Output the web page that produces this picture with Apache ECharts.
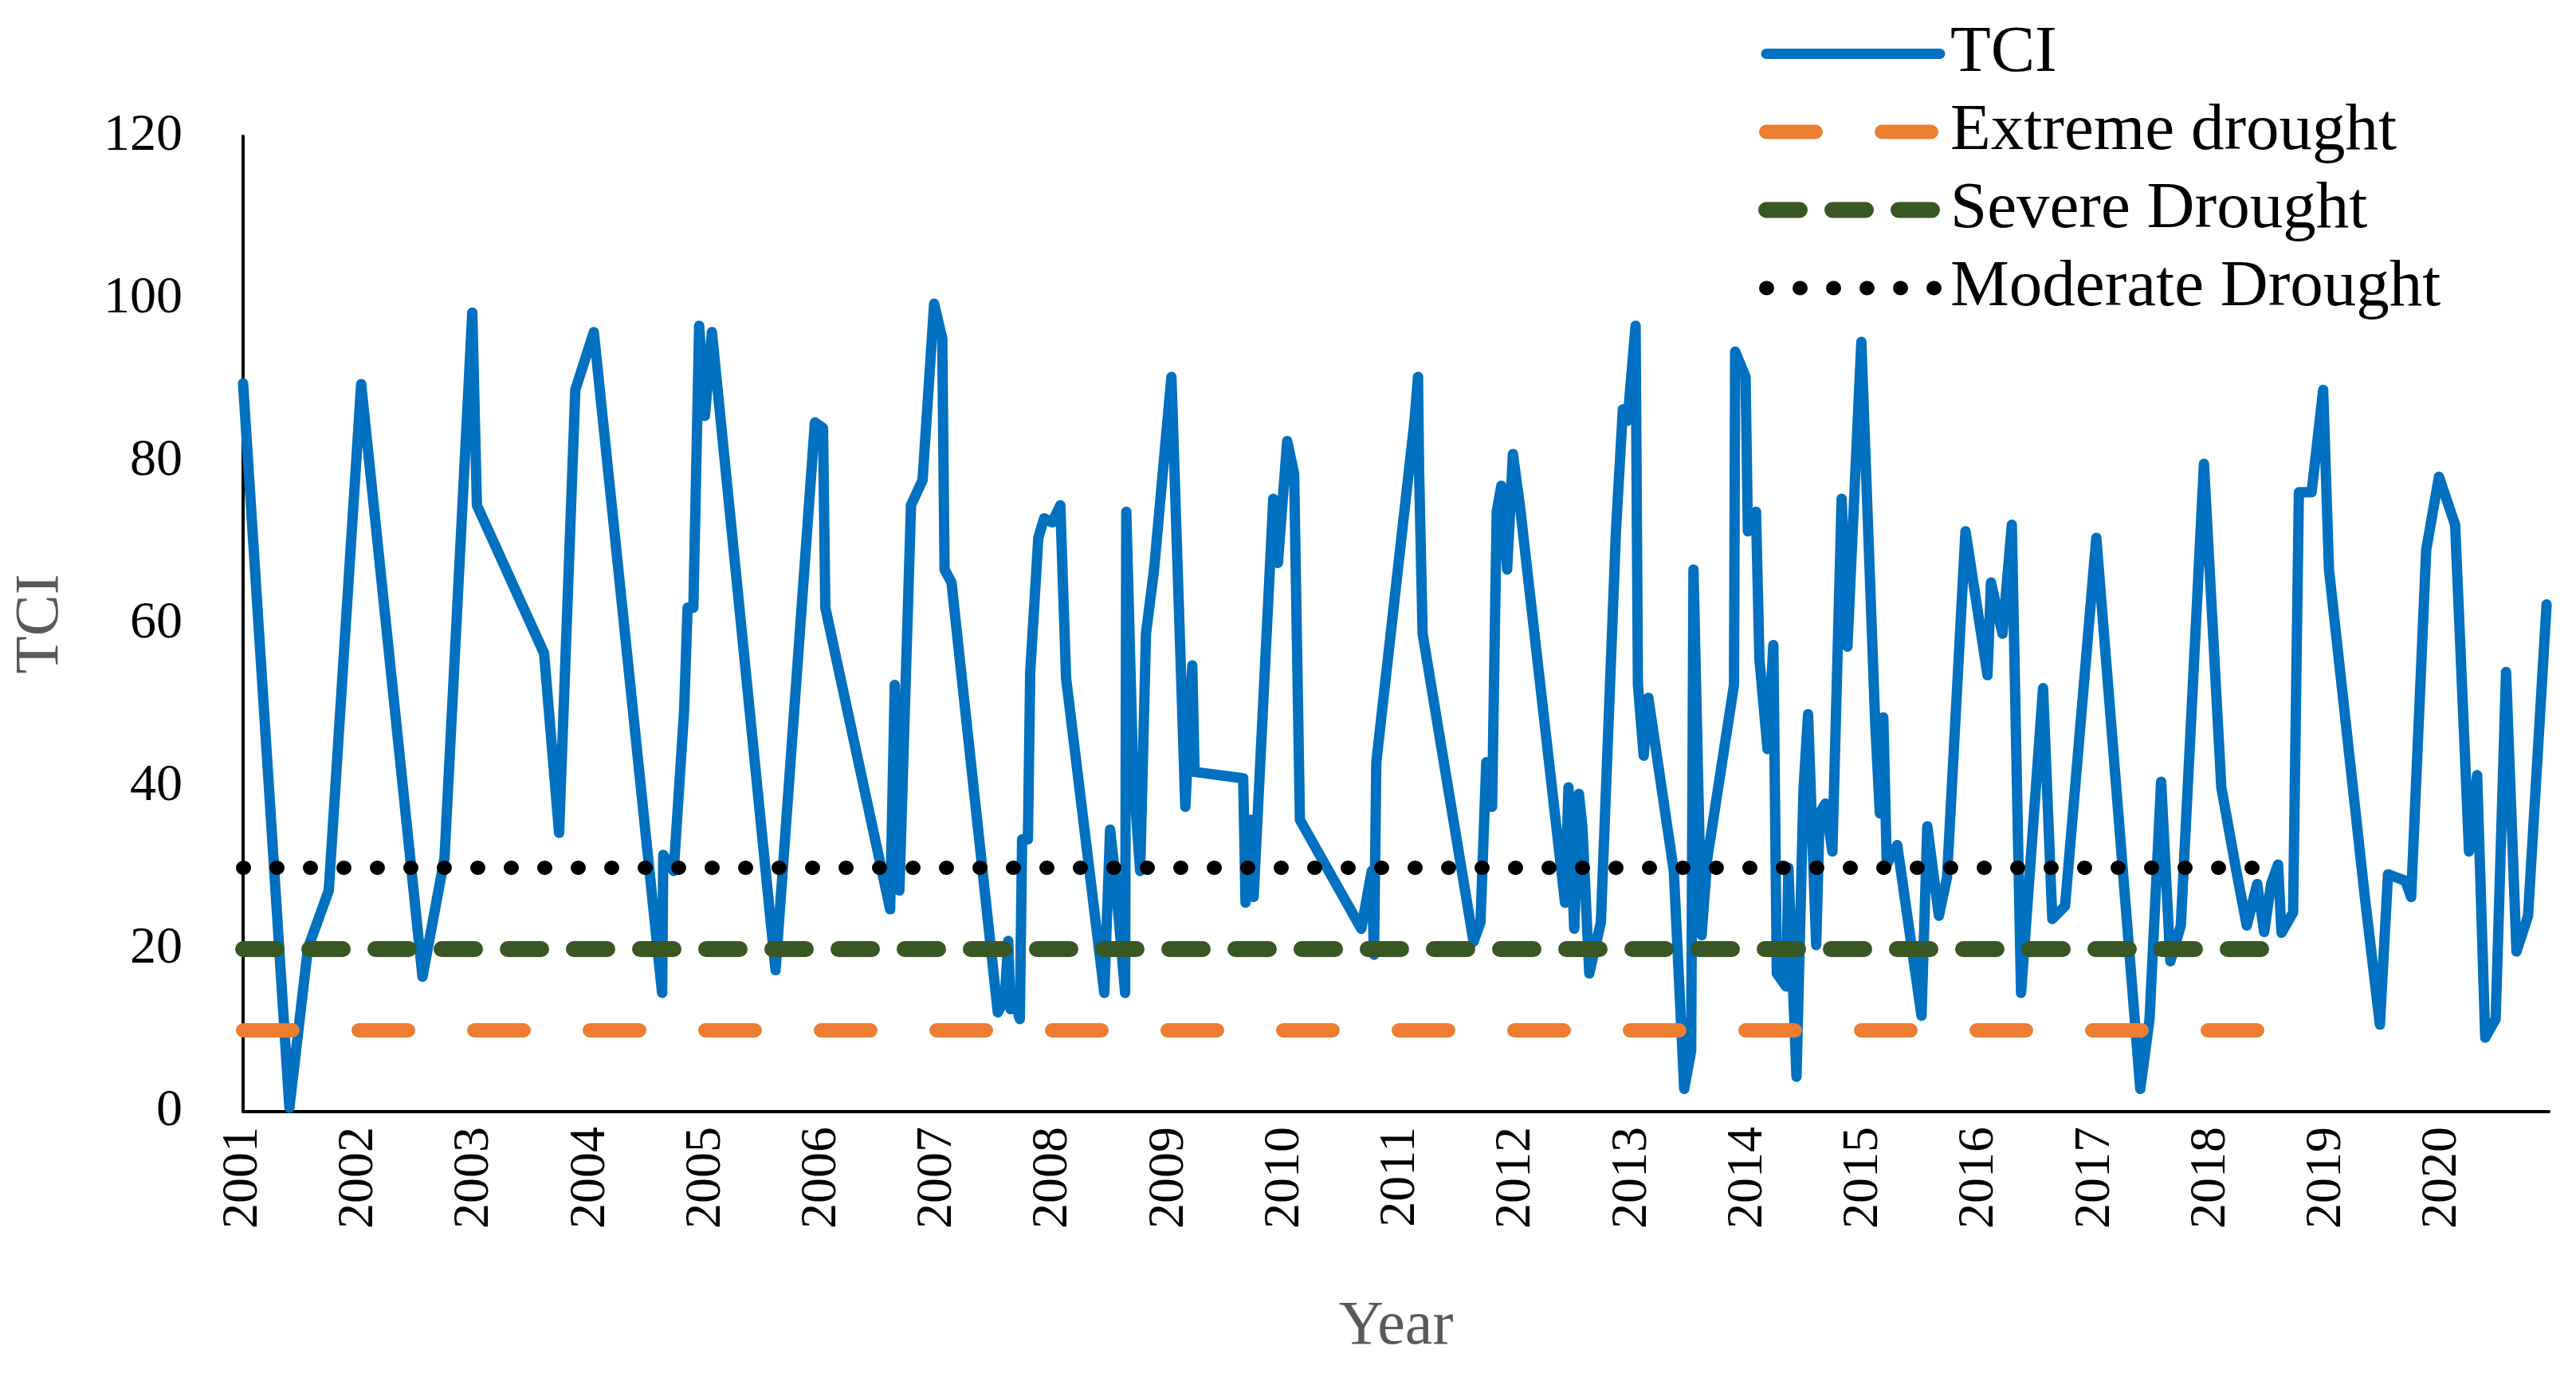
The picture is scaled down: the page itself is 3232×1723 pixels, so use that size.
<!DOCTYPE html>
<html>
<head>
<meta charset="utf-8">
<script src="https://cdn.jsdelivr.net/npm/echarts@6/dist/echarts.min.js"></script>
<style>
html,body{margin:0;padding:0;background:#fff;}
#chart{width:3232px;height:1723px;}
</style>
</head>
<body>
<div id="chart"></div>
<script>
// TCI series: decimal year and value
const tciYears = [
2001.00,2001.40,2001.56,2001.74,2002.02,2002.55,2002.74,2002.98,2003.02,2003.60,
2003.73,2003.87,2004.03,2004.62,2004.63,2004.72,2004.81,2004.84,2004.89,2004.94,
2004.99,2005.05,2005.60,2005.94,2006.01,2006.03,2006.59,2006.63,2006.67,2006.77,
2006.87,2006.97,2007.04,2007.06,2007.12,2007.52,2007.58,2007.61,2007.63,2007.67,
2007.71,2007.73,2007.78,2007.80,2007.87,2007.92,2007.99,2008.06,2008.11,2008.44,
2008.49,2008.53,2008.62,2008.63,2008.69,2008.75,2008.80,2008.87,2009.02,2009.14,
2009.20,2009.22,2009.64,2009.66,2009.70,2009.73,2009.90,2009.94,2010.02,2010.08,
2010.13,2010.66,2010.75,2010.77,2010.79,2011.12,2011.15,2011.16,2011.19,2011.63,
2011.69,2011.74,2011.79,2011.83,2011.87,2011.92,2011.97,2012.03,2012.42,2012.45,
2012.50,2012.54,2012.57,2012.63,2012.73,2012.86,2012.92,2012.96,2013.03,2013.05,
2013.10,2013.14,2013.36,2013.45,2013.51,2013.53,2013.60,2013.65,2013.88,2013.89,
2013.98,2014.00,2014.07,2014.10,2014.17,2014.22,2014.25,2014.33,2014.35,2014.42,
2014.48,2014.52,2014.59,2014.62,2014.67,2014.73,2014.81,2014.86,2014.98,2015.10,
2015.14,2015.17,2015.20,2015.29,2015.50,2015.55,2015.65,2015.72,2015.88,2016.07,
2016.10,2016.20,2016.28,2016.36,2016.55,2016.63,2016.74,2017.01,2017.39,2017.47,
2017.57,2017.65,2017.74,2017.94,2018.09,2018.22,2018.31,2018.40,2018.46,2018.52,
2018.58,2018.61,2018.71,2018.76,2018.87,2018.97,2019.02,2019.33,2019.46,2019.53,
2019.68,2019.73,2019.86,2019.97,2020.11,2020.23,2020.30,2020.37,2020.46,2020.55,
2020.64,2020.74,2020.90
];
const tciValues = [
89.6,0.5,20.1,27.2,89.5,16.6,31.2,98.3,74.6,56.4,
34.3,88.8,95.9,14.6,31.6,29.6,49.3,62.0,62.0,96.7,
85.6,95.9,17.4,84.8,84.1,62.0,24.9,52.5,27.2,74.6,
77.7,99.4,95.1,66.7,65.1,12.2,13.8,21.0,12.6,13.4,
11.4,33.5,33.5,54.0,70.6,73.0,72.5,74.6,53.3,14.6,
34.7,29.6,14.6,73.8,41.4,29.6,58.8,66.7,90.4,37.5,
54.9,41.8,41.0,25.7,35.9,26.4,75.4,67.5,82.5,78.5,
35.9,22.5,29.6,19.3,43.0,85.0,90.4,78.5,58.8,20.9,
23.3,43.0,37.5,73.8,77.0,66.7,80.9,74.6,25.7,39.9,
22.5,39.1,35.1,17.0,23.3,71.4,86.4,85.0,96.7,52.5,
43.8,50.9,29.6,2.8,7.5,66.7,21.7,31.2,52.5,93.5,
90.4,71.4,73.8,55.6,44.6,57.4,17.0,15.4,30.0,4.3,
39.5,48.9,20.5,36.7,37.9,32.0,75.4,57.2,94.7,47.8,
36.7,48.5,30.4,32.8,11.8,35.1,24.1,28.8,71.4,53.7,
65.1,58.8,72.2,14.6,52.1,23.7,25.3,70.6,2.8,11.4,
40.6,18.5,22.9,79.7,39.9,29.6,22.9,28.0,22.1,28.0,
30.4,22.0,24.5,76.2,76.2,88.8,66.7,26.4,10.7,29.2,
28.4,26.4,69.1,78.1,72.2,32.0,41.4,9.1,11.4,54.1,
19.7,24.1,62.4
];

// Drought thresholds
const thresholdNames = ['Extreme drought', 'Severe Drought', 'Moderate Drought'];
const thresholdValues = [10, 20, 30];
const thresholdStartYear = 2001;
const thresholdEndYear = 2018.56;

// Axis
const xMin = 2001, xMax = 2020.92;
const yTicks = [0, 20, 40, 60, 80, 100, 120];

const FONT = 'Liberation Serif';

const tciData = tciYears.map((y, i) => [y, tciValues[i]]);
const thrStyles = [
  {color: '#ED7D31', width: 18, type: [62, 83], cap: 'round'},
  {color: '#385723', width: 20, type: [42, 41], cap: 'round'},
  {color: '#000000', width: 18, type: [1, 41], cap: 'round'}
];

const series = [{
  name: 'TCI',
  type: 'line',
  data: tciData,
  symbol: 'none',
  clip: false,
  lineStyle: {color: '#0070C0', width: 13, join: 'round', cap: 'round'},
  itemStyle: {color: '#0070C0'},
  z: 2
}];
thresholdNames.forEach((n, i) => {
  series.push({
    name: n,
    type: 'line',
    data: [[thresholdStartYear, thresholdValues[i]], [thresholdEndYear, thresholdValues[i]]],
    symbol: 'none',
    lineStyle: thrStyles[i],
    itemStyle: {color: thrStyles[i].color},
    z: 3
  });
});

const chart = echarts.init(document.getElementById('chart'), null, {renderer: 'canvas'});
chart.setOption({
  animation: false,
  backgroundColor: '#ffffff',
  grid: {left: 305, right: 34, top: 171, bottom: 328, containLabel: false},
  legend: {
    orient: 'vertical',
    left: 2206,
    top: 26,
    itemWidth: 218,
    itemHeight: 20,
    itemGap: 15,
    padding: 0,
    data: ['TCI'].concat(thresholdNames),
    itemStyle: {opacity: 0, borderWidth: 0},
    lineStyle: {width: 'inherit', type: 'inherit', cap: 'inherit'},
    textStyle: {fontFamily: FONT, fontSize: 83, color: '#000', padding: [0, 0, 0, 8]}
  },
  xAxis: {
    type: 'value',
    min: xMin,
    max: xMax,
    interval: 1,
    name: 'Year',
    nameLocation: 'middle',
    nameGap: 232,
    nameTextStyle: {fontFamily: FONT, fontSize: 78, color: '#595959'},
    axisLine: {show: true, onZero: false, lineStyle: {color: '#000', width: 4}},
    axisTick: {show: false},
    splitLine: {show: false},
    axisLabel: {
      rotate: 90,
      margin: 19,
      fontFamily: FONT,
      fontSize: 64,
      color: '#000',
      formatter: v => (Math.abs(v - Math.round(v)) < 1e-6 ? String(Math.round(v)) : '')
    }
  },
  yAxis: {
    type: 'value',
    min: yTicks[0],
    max: yTicks[yTicks.length - 1],
    interval: 20,
    name: 'TCI',
    nameLocation: 'middle',
    nameGap: 214,
    nameTextStyle: {fontFamily: FONT, fontSize: 78, color: '#595959'},
    axisLine: {show: true, lineStyle: {color: '#000', width: 4}},
    axisTick: {show: false},
    splitLine: {show: false},
    axisLabel: {margin: 76, fontFamily: FONT, fontSize: 66, color: '#000'}
  },
  series: series
});
</script>
</body>
</html>
